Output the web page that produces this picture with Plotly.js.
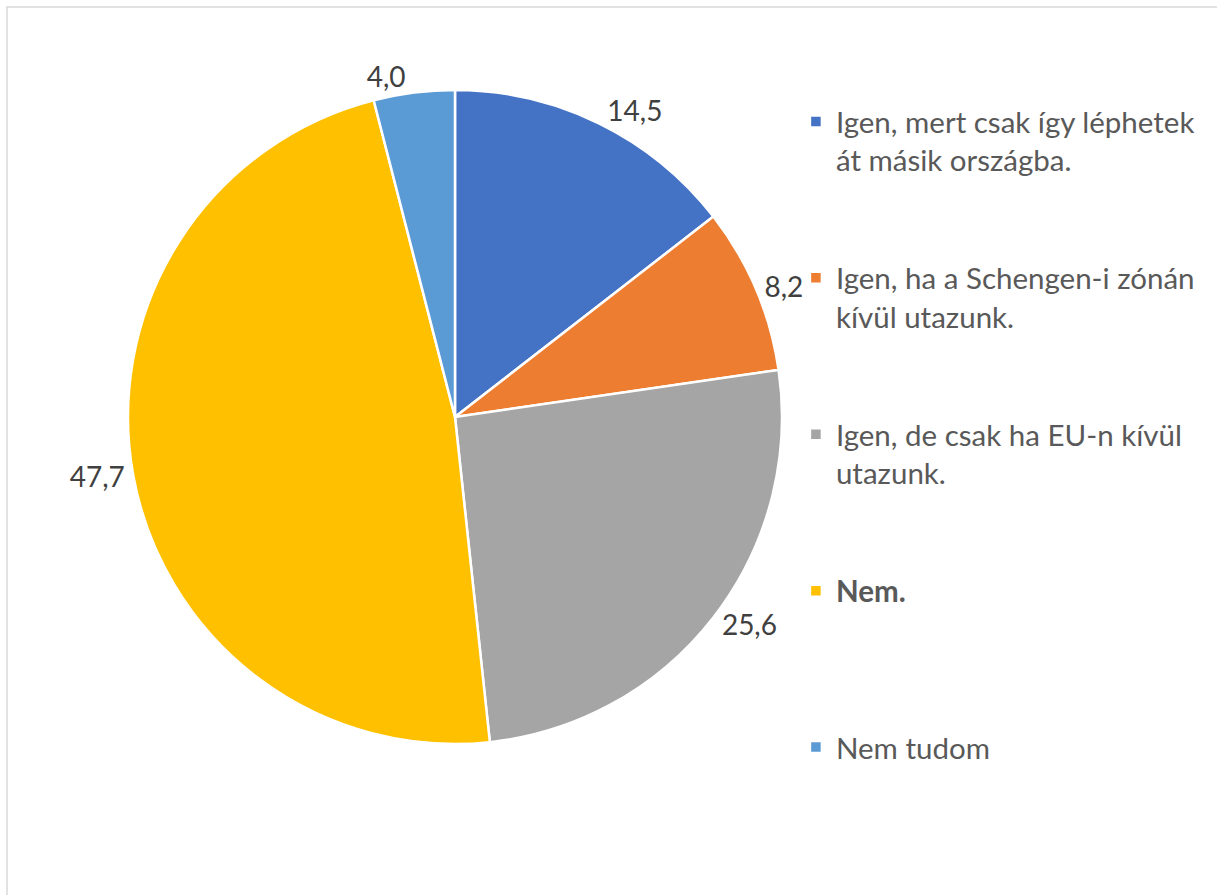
<!DOCTYPE html>
<html><head><meta charset="utf-8">
<script src="https://cdn.plot.ly/plotly-3.0.1.min.js"></script>
<style>html,body{margin:0;padding:0;background:#fff}#chart{width:1217px;height:895px}</style>
</head><body><div id="chart"></div>
<script>
const categories = [
  "Igen, mert csak így léphetek<br>át másik országba.",
  "Igen, ha a Schengen-i zónán<br>kívül utazunk.",
  "Igen, de csak ha EU-n kívül<br>utazunk.",
  "<b>Nem.</b>",
  "Nem tudom"
];
const padLines = [2, 2, 2, 3, 3];
const values = [14.5, 8.2, 25.6, 47.7, 4.0];
const colors = ["#4472C4", "#ED7D31", "#A5A5A5", "#FFC000", "#5B9BD5"];

const labels = categories.map((c, i) => c + "<br>&nbsp;".repeat(padLines[i]));

const trace = {
  type: "pie",
  labels: labels,
  values: values,
  sort: false,
  direction: "clockwise",
  rotation: 0,
  marker: {colors: colors, line: {color: "#FFFFFF", width: 2.5}},
  textposition: "outside",
  texttemplate: "%{value:.1f}",
  textfont: {family: "Lato, 'Open Sans', sans-serif", size: 28, color: "#404040"},
  hoverinfo: "label+value",
  domain: {x: [(455-327)/1217, (455+327)/1217], y: [1-744/895, 1-90/895]},
  showlegend: true
};

const layout = {
  width: 1217, height: 895,
  margin: {l: 0, r: 0, t: 0, b: 0},
  paper_bgcolor: "#FFFFFF",
  separators: ",.",
  font: {family: "Lato, 'Open Sans', sans-serif", color: "#595959"},
  legend: {
    x: 0.654, y: 0.893, xanchor: "left", yanchor: "top",
    valign: "top",
    font: {family: "Lato, 'Open Sans', sans-serif", size: 29.5, color: "#595959"},
    bgcolor: "rgba(0,0,0,0)"
  },
  shapes: [{
    type: "rect", xref: "paper", yref: "paper",
    x0: 7/1217, x1: 1.02, y0: -0.02, y1: 1-7/895,
    line: {color: "#D9D9D9", width: 1.5}, fillcolor: "rgba(0,0,0,0)", layer: "below"
  }]
};

Plotly.newPlot("chart", [trace], layout, {displayModeBar: false, staticPlot: true});
</script></body></html>
